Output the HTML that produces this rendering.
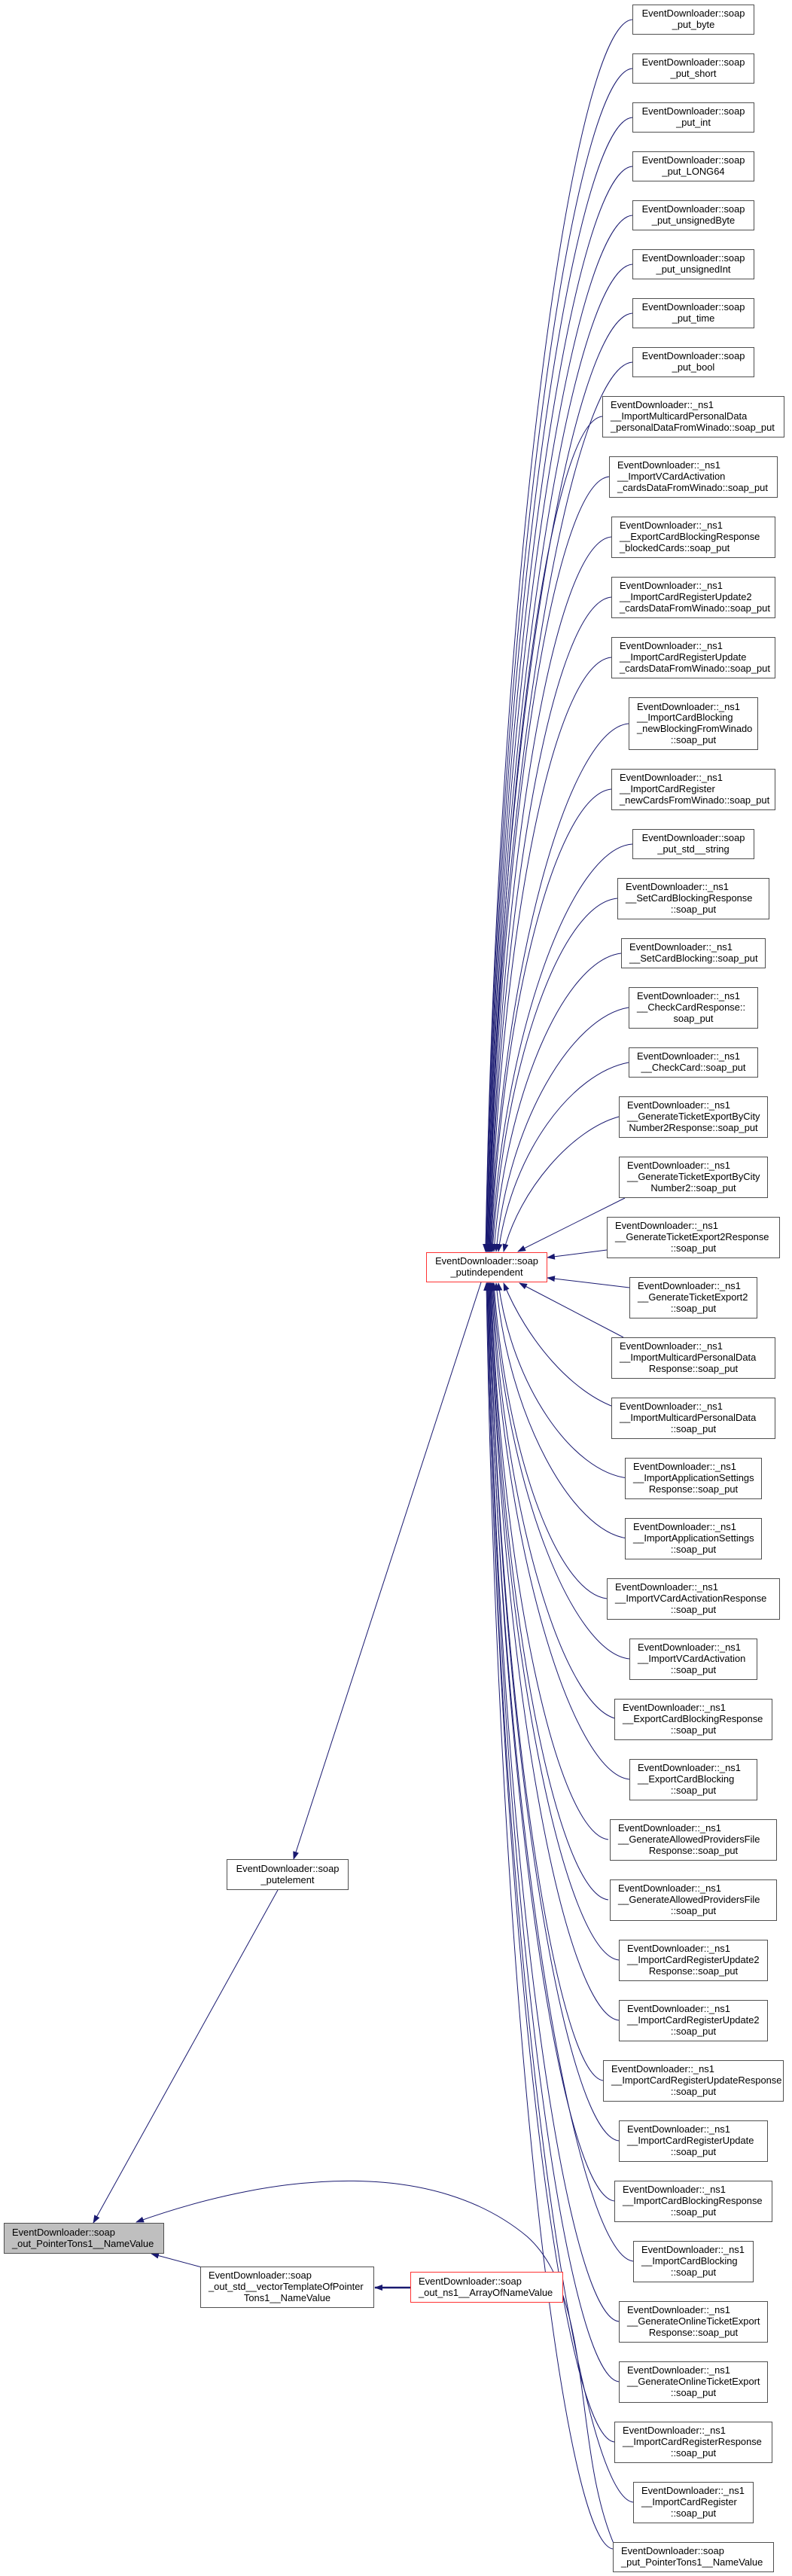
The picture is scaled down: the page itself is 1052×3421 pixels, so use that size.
<!DOCTYPE html>
<html><head><meta charset="utf-8"><style>
body{margin:0;background:#fff;}
#w{position:relative;width:1052px;height:3421px;overflow:hidden;background:#fff;}
svg{position:absolute;left:0;top:0;}
.n{position:absolute;box-sizing:border-box;border:1px solid #505050;background:#fff;display:flex;flex-direction:column;justify-content:center;font-family:"Liberation Sans",Arial,sans-serif;font-size:12.9px;line-height:14.7px;color:#000;padding:0 10px;text-align:left;white-space:nowrap;}
.n div:last-child{text-align:center;}
.n.c{text-align:center;}
.red{border-color:#ff3333;}
.g{background:#bfbfbf;}
</style></head><body><div id="w">
<svg width="1052" height="3421" viewBox="0 0 1052 3421">
<defs><marker id="a" markerWidth="11" markerHeight="8" refX="10" refY="4" orient="auto" markerUnits="userSpaceOnUse"><path d="M0,0 L11,4 L0,8 z" fill="#191970"/></marker></defs>
<g fill="none" stroke="#191970" stroke-width="1" marker-end="url(#a)">
<path d="M840,26 C760,31 660,770 645,1662"/>
<path d="M840,91 C760,96 661,806 645,1662"/>
<path d="M840,156 C760,161 661,841 646,1662"/>
<path d="M840,221 C760,226 662,877 646,1662"/>
<path d="M840,286 C760,291 662,913 647,1662"/>
<path d="M840,351 C760,356 663,949 647,1662"/>
<path d="M840,416 C760,421 663,984 648,1662"/>
<path d="M840,481 C760,486 664,1020 648,1662"/>
<path d="M800,553 C730,560 664,1059 649,1662"/>
<path d="M809,633 C735,640 665,1103 649,1662"/>
<path d="M812,713 C735,720 665,1147 650,1662"/>
<path d="M812,793 C735,800 666,1191 650,1662"/>
<path d="M812,873 C735,880 666,1235 651,1662"/>
<path d="M835,961 C755,968 667,1283 651,1662"/>
<path d="M812,1048 C740,1055 667,1331 652,1662"/>
<path d="M840,1121 C760,1126 668,1371 653,1662"/>
<path d="M820,1193 C745,1200 670,1411 654,1662"/>
<path d="M825,1266 C750,1275 672,1451 656,1662"/>
<path d="M835,1338 C760,1350 675,1490 659,1662"/>
<path d="M835,1411 C760,1425 680,1530 662,1662"/>
<path d="M822,1483 C760,1500 690,1580 669,1662"/>
<path d="M830,1591 L688,1662"/>
<path d="M806,1660 L727,1670"/>
<path d="M836,1710 L727,1697"/>
<path d="M828,1776 L690,1704"/>
<path d="M820,1870 C760,1850 700,1780 669,1704"/>
<path d="M834,1963 C760,1955 680,1840 662,1704"/>
<path d="M834,2043 C760,2035 675,1880 659,1704"/>
<path d="M806,2123 C740,2115 672,1930 656,1704"/>
<path d="M836,2203 C760,2195 670,1970 655,1704"/>
<path d="M822,2283 C750,2275 669,2010 654,1704"/>
<path d="M836,2363 C760,2355 668,2055 653,1704"/>
<path d="M808,2443 C740,2435 667,2100 652,1704"/>
<path d="M808,2523 C740,2515 667,2145 652,1704"/>
<path d="M822,2603 C750,2595 666,2190 651,1704"/>
<path d="M822,2683 C750,2675 666,2235 651,1704"/>
<path d="M801,2763 C740,2755 665,2280 650,1704"/>
<path d="M822,2843 C750,2835 665,2325 650,1704"/>
<path d="M816,2923 C745,2915 664,2370 649,1704"/>
<path d="M841,3003 C765,2995 664,2415 649,1704"/>
<path d="M822,3083 C750,3075 663,2460 648,1704"/>
<path d="M822,3163 C750,3155 663,2505 648,1704"/>
<path d="M816,3243 C745,3235 662,2550 647,1704"/>
<path d="M841,3323 C765,3315 662,2595 647,1704"/>
<path d="M814,3385 C745,3375 661,2630 646,1704"/>
<path d="M639,1703 L390,2469"/>
<path d="M369,2510 L124,2952"/>
<path d="M816,3380 C760,3250 790,3050 700,2970 C580,2870 380,2880 181,2951"/>
<path d="M268,3011 L201,2993"/>
<path d="M545,3038 L498,3038" stroke-width="2.5"/>
</g>
</svg>

<div class="n c" style="left:840px;top:6px;width:162px;height:40px"><div>EventDownloader::soap</div><div>_put_byte</div></div>
<div class="n c" style="left:840px;top:71px;width:162px;height:40px"><div>EventDownloader::soap</div><div>_put_short</div></div>
<div class="n c" style="left:840px;top:136px;width:162px;height:40px"><div>EventDownloader::soap</div><div>_put_int</div></div>
<div class="n c" style="left:840px;top:201px;width:162px;height:40px"><div>EventDownloader::soap</div><div>_put_LONG64</div></div>
<div class="n c" style="left:840px;top:266px;width:162px;height:40px"><div>EventDownloader::soap</div><div>_put_unsignedByte</div></div>
<div class="n c" style="left:840px;top:331px;width:162px;height:40px"><div>EventDownloader::soap</div><div>_put_unsignedInt</div></div>
<div class="n c" style="left:840px;top:396px;width:162px;height:40px"><div>EventDownloader::soap</div><div>_put_time</div></div>
<div class="n c" style="left:840px;top:461px;width:162px;height:40px"><div>EventDownloader::soap</div><div>_put_bool</div></div>
<div class="n" style="left:800px;top:526px;width:242px;height:55px"><div>EventDownloader::_ns1</div><div>__ImportMulticardPersonalData</div><div style="text-align:left">_personalDataFromWinado::soap_put</div></div>
<div class="n" style="left:809px;top:606px;width:224px;height:55px"><div>EventDownloader::_ns1</div><div>__ImportVCardActivation</div><div style="text-align:left">_cardsDataFromWinado::soap_put</div></div>
<div class="n" style="left:812px;top:686px;width:218px;height:55px"><div>EventDownloader::_ns1</div><div>__ExportCardBlockingResponse</div><div style="text-align:left">_blockedCards::soap_put</div></div>
<div class="n" style="left:812px;top:766px;width:218px;height:55px"><div>EventDownloader::_ns1</div><div>__ImportCardRegisterUpdate2</div><div style="text-align:left">_cardsDataFromWinado::soap_put</div></div>
<div class="n" style="left:812px;top:846px;width:218px;height:55px"><div>EventDownloader::_ns1</div><div>__ImportCardRegisterUpdate</div><div style="text-align:left">_cardsDataFromWinado::soap_put</div></div>
<div class="n" style="left:835px;top:926px;width:172px;height:70px"><div>EventDownloader::_ns1</div><div>__ImportCardBlocking</div><div>_newBlockingFromWinado</div><div>::soap_put</div></div>
<div class="n" style="left:812px;top:1021px;width:218px;height:55px"><div>EventDownloader::_ns1</div><div>__ImportCardRegister</div><div style="text-align:left">_newCardsFromWinado::soap_put</div></div>
<div class="n c" style="left:840px;top:1101px;width:162px;height:40px"><div>EventDownloader::soap</div><div>_put_std__string</div></div>
<div class="n" style="left:820px;top:1166px;width:202px;height:55px"><div>EventDownloader::_ns1</div><div>__SetCardBlockingResponse</div><div>::soap_put</div></div>
<div class="n" style="left:825px;top:1246px;width:192px;height:40px"><div>EventDownloader::_ns1</div><div>__SetCardBlocking::soap_put</div></div>
<div class="n" style="left:835px;top:1311px;width:172px;height:55px"><div>EventDownloader::_ns1</div><div>__CheckCardResponse::</div><div>soap_put</div></div>
<div class="n" style="left:835px;top:1391px;width:172px;height:40px"><div>EventDownloader::_ns1</div><div>__CheckCard::soap_put</div></div>
<div class="n" style="left:822px;top:1456px;width:198px;height:55px"><div>EventDownloader::_ns1</div><div>__GenerateTicketExportByCity</div><div>Number2Response::soap_put</div></div>
<div class="n" style="left:822px;top:1536px;width:198px;height:55px"><div>EventDownloader::_ns1</div><div>__GenerateTicketExportByCity</div><div>Number2::soap_put</div></div>
<div class="n" style="left:806px;top:1616px;width:230px;height:55px"><div>EventDownloader::_ns1</div><div>__GenerateTicketExport2Response</div><div>::soap_put</div></div>
<div class="n" style="left:836px;top:1696px;width:170px;height:55px"><div>EventDownloader::_ns1</div><div>__GenerateTicketExport2</div><div>::soap_put</div></div>
<div class="n" style="left:812px;top:1776px;width:218px;height:55px"><div>EventDownloader::_ns1</div><div>__ImportMulticardPersonalData</div><div>Response::soap_put</div></div>
<div class="n" style="left:812px;top:1856px;width:218px;height:55px"><div>EventDownloader::_ns1</div><div>__ImportMulticardPersonalData</div><div>::soap_put</div></div>
<div class="n" style="left:830px;top:1936px;width:182px;height:55px"><div>EventDownloader::_ns1</div><div>__ImportApplicationSettings</div><div>Response::soap_put</div></div>
<div class="n" style="left:830px;top:2016px;width:182px;height:55px"><div>EventDownloader::_ns1</div><div>__ImportApplicationSettings</div><div>::soap_put</div></div>
<div class="n" style="left:806px;top:2096px;width:230px;height:55px"><div>EventDownloader::_ns1</div><div>__ImportVCardActivationResponse</div><div>::soap_put</div></div>
<div class="n" style="left:836px;top:2176px;width:170px;height:55px"><div>EventDownloader::_ns1</div><div>__ImportVCardActivation</div><div>::soap_put</div></div>
<div class="n" style="left:816px;top:2256px;width:210px;height:55px"><div>EventDownloader::_ns1</div><div>__ExportCardBlockingResponse</div><div>::soap_put</div></div>
<div class="n" style="left:836px;top:2336px;width:170px;height:55px"><div>EventDownloader::_ns1</div><div>__ExportCardBlocking</div><div>::soap_put</div></div>
<div class="n" style="left:810px;top:2416px;width:222px;height:55px"><div>EventDownloader::_ns1</div><div>__GenerateAllowedProvidersFile</div><div>Response::soap_put</div></div>
<div class="n" style="left:810px;top:2496px;width:222px;height:55px"><div>EventDownloader::_ns1</div><div>__GenerateAllowedProvidersFile</div><div>::soap_put</div></div>
<div class="n" style="left:822px;top:2576px;width:198px;height:55px"><div>EventDownloader::_ns1</div><div>__ImportCardRegisterUpdate2</div><div>Response::soap_put</div></div>
<div class="n" style="left:822px;top:2656px;width:198px;height:55px"><div>EventDownloader::_ns1</div><div>__ImportCardRegisterUpdate2</div><div>::soap_put</div></div>
<div class="n" style="left:801px;top:2736px;width:240px;height:55px"><div>EventDownloader::_ns1</div><div>__ImportCardRegisterUpdateResponse</div><div>::soap_put</div></div>
<div class="n" style="left:822px;top:2816px;width:198px;height:55px"><div>EventDownloader::_ns1</div><div>__ImportCardRegisterUpdate</div><div>::soap_put</div></div>
<div class="n" style="left:816px;top:2896px;width:210px;height:55px"><div>EventDownloader::_ns1</div><div>__ImportCardBlockingResponse</div><div>::soap_put</div></div>
<div class="n" style="left:841px;top:2976px;width:160px;height:55px"><div>EventDownloader::_ns1</div><div>__ImportCardBlocking</div><div>::soap_put</div></div>
<div class="n" style="left:822px;top:3056px;width:198px;height:55px"><div>EventDownloader::_ns1</div><div>__GenerateOnlineTicketExport</div><div>Response::soap_put</div></div>
<div class="n" style="left:822px;top:3136px;width:198px;height:55px"><div>EventDownloader::_ns1</div><div>__GenerateOnlineTicketExport</div><div>::soap_put</div></div>
<div class="n" style="left:816px;top:3216px;width:210px;height:55px"><div>EventDownloader::_ns1</div><div>__ImportCardRegisterResponse</div><div>::soap_put</div></div>
<div class="n" style="left:841px;top:3296px;width:160px;height:55px"><div>EventDownloader::_ns1</div><div>__ImportCardRegister</div><div>::soap_put</div></div>
<div class="n" style="left:814px;top:3376px;width:214px;height:40px"><div>EventDownloader::soap</div><div style="text-align:left">_put_PointerTons1__NameValue</div></div>

<div class="n c red" style="left:566px;top:1663px;width:161px;height:40px"><div>EventDownloader::soap</div><div>_putindependent</div></div>
<div class="n c" style="left:301px;top:2469px;width:162px;height:41px"><div>EventDownloader::soap</div><div>_putelement</div></div>
<div class="n g" style="left:5px;top:2952px;width:213px;height:41px"><div>EventDownloader::soap</div><div style="text-align:left">_out_PointerTons1__NameValue</div></div>
<div class="n" style="left:266px;top:3010px;width:231px;height:55px"><div>EventDownloader::soap</div><div>_out_std__vectorTemplateOfPointer</div><div>Tons1__NameValue</div></div>
<div class="n red" style="left:545px;top:3017px;width:203px;height:41px"><div>EventDownloader::soap</div><div style="text-align:left">_out_ns1__ArrayOfNameValue</div></div>
</div></body></html>
